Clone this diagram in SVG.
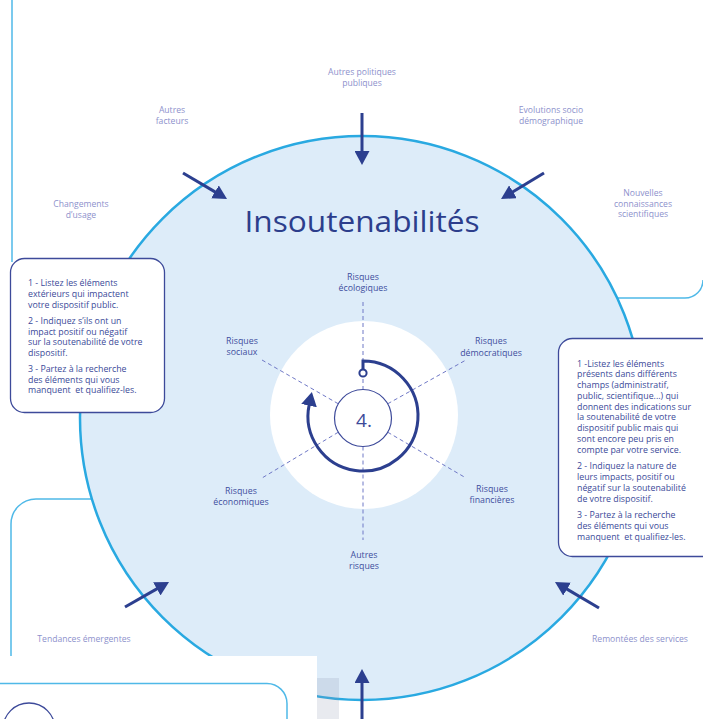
<svg xmlns="http://www.w3.org/2000/svg" width="703" height="719" viewBox="0 0 703 719">
<style>
.ol{font-family:"Open Sans","DejaVu Sans",sans-serif;font-size:8.6px;fill:#8d91cc;text-anchor:middle}
.rk{font-family:"Open Sans","DejaVu Sans",sans-serif;font-size:8.8px;fill:#3d4e9e;text-anchor:middle}
.bx{font-family:"Open Sans","DejaVu Sans",sans-serif;font-size:8.8px;fill:#3b4a99}
.arr{stroke:#2c3f8f;stroke-width:3;fill:none}
.dash{stroke:#6f78c6;stroke-width:1;stroke-dasharray:4 3;fill:none}
.lb{stroke:#4fb9e8;stroke-width:1.5;fill:none}
</style>
<defs>
<marker id="ah" viewBox="0 -7.5 14 15" refX="2" refY="0" markerWidth="14" markerHeight="15" markerUnits="userSpaceOnUse" orient="auto">
<path d="M0,-7.5 L14,0 L0,7.5 z" fill="#2c3f8f"/>
</marker>
<marker id="ah2" viewBox="0 -8 14 16" refX="1" refY="0" markerWidth="14" markerHeight="16" markerUnits="userSpaceOnUse" orient="auto">
<path d="M0,-8 L14,0 L0,8 z" fill="#2c3f8f"/>
</marker>
</defs>
<rect width="703" height="719" fill="#ffffff"/>
<g id="frame-lines">
<line class="lb" x1="12" y1="0" x2="12" y2="262"/>
<path class="lb" d="M615,298 H685 A18,18 0 0 0 703,280"/>
<path class="lb" d="M95,499 H36 A25,25 0 0 0 11,524 V660"/>
</g>
<g id="main-circle">
<circle cx="362" cy="418" r="282" fill="#ddecf9" stroke="#29a9e1" stroke-width="2.5"/>
<text x="362" y="232" font-family="'Open Sans','DejaVu Sans',sans-serif" font-size="30" fill="#2c3e8c" text-anchor="middle" textLength="235" lengthAdjust="spacingAndGlyphs">Insoutenabilités</text>
</g>
<g id="inner-disc">
<circle cx="364" cy="415" r="94" fill="#ffffff"/>
</g>
<g id="connectors">
<line class="dash" x1="363" y1="302" x2="363" y2="389.5"/>
<line class="dash" x1="363" y1="446.5" x2="363" y2="540"/>
<line class="dash" x1="338.3" y1="403.8" x2="262" y2="360"/>
<line class="dash" x1="387.7" y1="403.8" x2="466" y2="360"/>
<line class="dash" x1="338.3" y1="432.2" x2="262" y2="478"/>
<line class="dash" x1="387.7" y1="432.2" x2="466" y2="478"/>
<line class="arr" x1="362" y1="113" x2="362" y2="153" marker-end="url(#ah)"/>
<line class="arr" x1="183" y1="173" x2="216.7" y2="192.9" marker-end="url(#ah)"/>
<line class="arr" x1="544" y1="173" x2="511.3" y2="192.8" marker-end="url(#ah)"/>
<line class="arr" x1="125" y1="607" x2="158.6" y2="587.9" marker-end="url(#ah)"/>
<line class="arr" x1="599" y1="608" x2="565.3" y2="588.1" marker-end="url(#ah)"/>
<path class="arr" d="M363,369.5 V361 A55,55 0 1 1 309.2,404.6" marker-end="url(#ah2)"/>
<circle cx="363" cy="373" r="3.6" fill="#ffffff" stroke="#2c3f8f" stroke-width="2"/>
</g>
<g id="center-node">
<circle cx="363" cy="418" r="28.5" fill="#ffffff" stroke="#3d4a9a" stroke-width="1.2"/>
<text x="364" y="426.5" font-family="'Open Sans','DejaVu Sans',sans-serif" font-size="19" fill="#3d4a9a" text-anchor="middle">4.</text>
</g>
<g id="risk-labels">
<text class="rk" x="363" y="279.5">Risques</text><text class="rk" x="363" y="291">écologiques</text>
<text class="rk" x="242" y="343.5">Risques</text><text class="rk" x="242" y="355">sociaux</text>
<text class="rk" x="491" y="344">Risques</text><text class="rk" x="491" y="355.5">démocratiques</text>
<text class="rk" x="241" y="493.5">Risques</text><text class="rk" x="241" y="504.5">économiques</text>
<text class="rk" x="492" y="491.5">Risques</text><text class="rk" x="492" y="503">financières</text>
<text class="rk" x="364" y="557.5">Autres</text><text class="rk" x="364" y="569">risques</text>
</g>
<g id="outer-labels">
<text class="ol" x="362" y="75">Autres politiques</text><text class="ol" x="362" y="85.5">publiques</text>
<text class="ol" x="172" y="113">Autres</text><text class="ol" x="172" y="124">facteurs</text>
<text class="ol" x="551" y="113">Evolutions socio</text><text class="ol" x="551" y="124">démographique</text>
<text class="ol" x="81" y="207">Changements</text><text class="ol" x="81" y="217.5">d’usage</text>
<text class="ol" x="643" y="196">Nouvelles</text><text class="ol" x="643" y="206.5">connaissances</text><text class="ol" x="643" y="217">scientifiques</text>
<text class="ol" x="84" y="642">Tendances émergentes</text>
<text class="ol" x="640" y="642">Remontées des services</text>
</g>
<g id="left-box">
<rect x="10.5" y="258.5" width="154" height="154" rx="14" fill="#ffffff" stroke="#3d4a9a" stroke-width="1.3"/>
<text class="bx" x="28" y="286">1 - Listez les éléments</text>
<text class="bx" x="28" y="297">extérieurs qui impactent</text>
<text class="bx" x="28" y="308">votre dispositif public.</text>
<text class="bx" x="28" y="324">2 - Indiquez s’ils ont un</text>
<text class="bx" x="28" y="334.5">impact positif ou négatif</text>
<text class="bx" x="28" y="345">sur la soutenabilité de votre</text>
<text class="bx" x="28" y="355.5">dispositif.</text>
<text class="bx" x="28" y="371.5">3 - Partez à la recherche</text>
<text class="bx" x="28" y="382.5">des éléments qui vous</text>
<text class="bx" x="28" y="393">manquent&#160; et qualifiez-les.</text>
</g>
<g id="right-box">
<rect x="558.5" y="338.5" width="160" height="218" rx="14" fill="#ffffff" stroke="#3d4a9a" stroke-width="1.3"/>
<text class="bx" x="577" y="366.5">1 -Listez les éléments</text>
<text class="bx" x="577" y="377">présents dans différents</text>
<text class="bx" x="577" y="387.5">champs (administratif,</text>
<text class="bx" x="577" y="398.5">public, scientifique...) qui</text>
<text class="bx" x="577" y="409.5">donnent des indications sur</text>
<text class="bx" x="577" y="420">la soutenabilité de votre</text>
<text class="bx" x="577" y="430.5">dispositif public mais qui</text>
<text class="bx" x="577" y="441.5">sont encore peu pris en</text>
<text class="bx" x="577" y="452.5">compte par votre service.</text>
<text class="bx" x="577" y="469">2 - Indiquez la nature de</text>
<text class="bx" x="577" y="480">leurs impacts, positif ou</text>
<text class="bx" x="577" y="490.5">négatif sur la soutenabilité</text>
<text class="bx" x="577" y="501.5">de votre dispositif.</text>
<text class="bx" x="577" y="518">3 - Partez à la recherche</text>
<text class="bx" x="577" y="528.5">des éléments qui vous</text>
<text class="bx" x="577" y="539.5">manquent&#160; et qualifiez-les.</text>
</g>
<g id="bottom-panel">
<rect x="0" y="656" width="317" height="63" fill="#ffffff"/>
<rect x="317" y="678" width="22" height="41" fill="#8e98b0" fill-opacity="0.2"/>
<path class="lb" d="M0,683.5 H267 A20,20 0 0 1 287,703.5 V719"/>
<circle cx="29" cy="729" r="26" fill="none" stroke="#3d4a9a" stroke-width="1.3"/>
<line class="arr" x1="362" y1="719" x2="362" y2="681" marker-end="url(#ah)"/>
</g>
</svg>
